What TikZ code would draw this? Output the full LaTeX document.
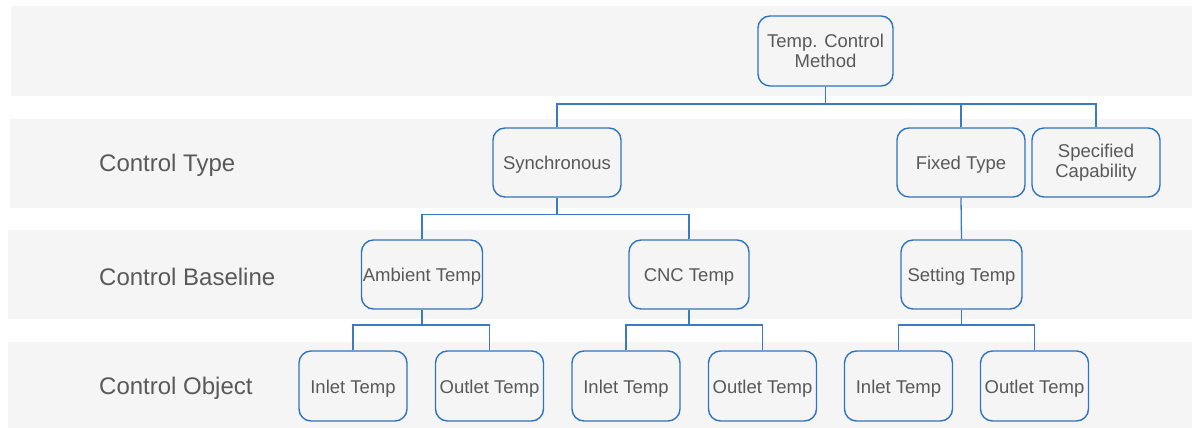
\documentclass[tikz,border=0pt]{standalone}
\usepackage{fontspec}
\setmainfont{Liberation Sans}
\definecolor{bandgray}{HTML}{F5F5F5}
\definecolor{boxblue}{HTML}{2F74BF}
\definecolor{lineblue}{HTML}{3A7CC4}
\definecolor{txtgray}{HTML}{595959}
\begin{document}
\begin{tikzpicture}[x=1pt,y=1pt,
  band/.style={fill=bandgray,draw=none},
  box/.style={draw=boxblue,line width=1.4pt,rounded corners=12pt,fill=bandgray,
    text=txtgray,align=center,inner sep=0pt,
    font=\fontsize{18.5}{20.5}\selectfont},
  oneline/.style={text height=15pt,text depth=0pt},
  topbox/.style={box,minimum width=128pt,minimum height=69pt},
  midbox/.style={box,oneline,minimum width=121pt,minimum height=69pt},
  lowbox/.style={box,oneline,minimum width=108pt,minimum height=70pt},
  rowlabel/.style={anchor=west,text=txtgray,inner sep=0pt,
    font=\fontsize{24}{26}\selectfont},
  conn/.style={draw=lineblue,line width=1.3pt}]
\useasboundingbox (0,0) rectangle (1192,428);
% bands
\fill[band] (11,332) rectangle (1192,422);
\fill[band] (10,220) rectangle (1192,309);
\fill[band] (8,109) rectangle (1192,198);
\fill[band] (8,0) rectangle (1192,86);
% row labels
\node[rowlabel] (l1) at (99,263) {Control Type};
\node[rowlabel] (l2) at (99,151.5) {Control Baseline};
\node[rowlabel] (l3) at (99,40) {Control Object};
% nodes
\node[box,minimum width=135pt,minimum height=70pt] (root) at (825.5,377) {Temp. Control\\Method};
\node[topbox,oneline] (sync) at (557,265.5) {Synchronous};
\node[topbox,oneline] (fixed) at (961,265.5) {Fixed Type};
\node[topbox] (spec) at (1096,265.5) {Specified\\Capability};
\node[midbox] (amb) at (422,153.5) {Ambient Temp};
\node[midbox,minimum width=120pt] (cnc) at (689,153.5) {CNC Temp};
\node[midbox] (set) at (961.5,153.5) {Setting Temp};
\node[lowbox] (in1) at (353,42) {Inlet Temp};
\node[lowbox] (out1) at (489.5,42) {Outlet Temp};
\node[lowbox] (in2) at (626,42) {Inlet Temp};
\node[lowbox] (out2) at (762.5,42) {Outlet Temp};
\node[lowbox] (in3) at (898.5,42) {Inlet Temp};
\node[lowbox] (out3) at (1034.5,42) {Outlet Temp};
% connectors
\foreach \c in {sync,fixed,spec}
  \draw[conn] (root.south) |- (\c.north |- 0,324) -- (\c.north);
\foreach \c in {amb,cnc}
  \draw[conn] (sync.south) |- (\c.north |- 0,213.5) -- (\c.north);
\draw[conn] (fixed.south) -- (set.north);
\foreach \c in {in1,out1}
  \draw[conn] (amb.south) |- (\c.north |- 0,103) -- (\c.north);
\foreach \c in {in2,out2}
  \draw[conn] (cnc.south) |- (\c.north |- 0,103) -- (\c.north);
\foreach \c in {in3,out3}
  \draw[conn] (set.south) |- (\c.north |- 0,103) -- (\c.north);
\end{tikzpicture}
\end{document}
